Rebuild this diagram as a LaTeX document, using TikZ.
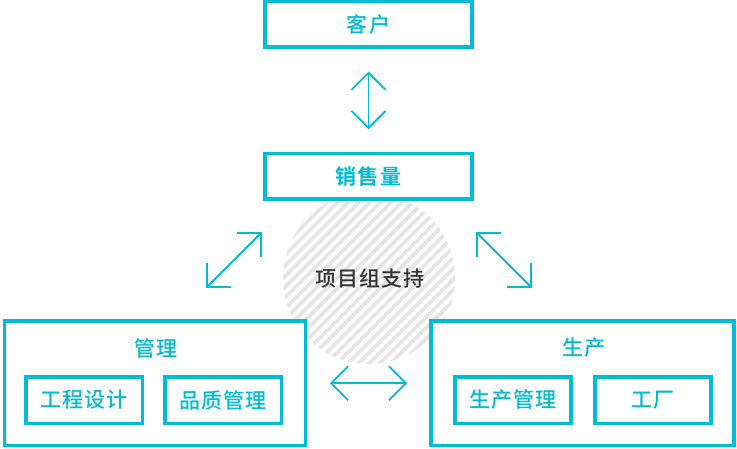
\documentclass[tikz,border=0pt]{standalone}
\usepackage{fontspec}
\newfontfamily\cjk[LetterSpace=5,BoldFont={Noto Sans CJK SC Bold}]{Noto Sans CJK SC Medium}
\usetikzlibrary{arrows.meta}
\definecolor{cy}{HTML}{00BCD4}
\definecolor{hatch}{HTML}{E5E5E5}
\definecolor{txt}{HTML}{333333}
\begin{document}
\begin{tikzpicture}[x=1pt,y=-1pt,
  box/.style={draw=cy, line width=3.5pt, fill=white, inner sep=0pt, text=cy,
    font=\cjk\fontsize{21}{21}\selectfont},
  lbl/.style={text=cy, inner sep=0pt, font=\cjk\fontsize{21}{21}\selectfont},
  biarrow/.style={draw=cy, line width=1.8pt,
    {Straight Barb[length=17pt,width=34pt]}-{Straight Barb[length=17pt,width=34pt]}}]
\useasboundingbox (0,0) rectangle (737,449);
% hatched circle
\begin{scope}
  \clip (369,278) circle[radius=86pt];
  \foreach \k in {-22,...,22}
    \draw[hatch, line width=3.8pt] (\k*10.7+269,378) -- ++(200,-200);
\end{scope}
\node[txt, inner sep=0pt, font=\cjk\fontsize{21}{21}\selectfont] (xm) at (370,278) {项目组支持};
% boxes
\node[box, minimum width=207pt, minimum height=45.5pt] (kehu) at (368.5,24.5) {客户};
\node[box, minimum width=207pt, minimum height=45.5pt, font=\cjk\bfseries\fontsize{21}{21}\selectfont] (xsl) at (368.5,176.25) {销售量};
\node[box, minimum width=301pt, minimum height=124.5pt] (gl) at (155,383.25) {};
\node[box, minimum width=303.25pt, minimum height=124.5pt] (sc) at (582.6,383.25) {};
\node[lbl] (gllbl) at (156,348) {管理};
\node[lbl] (sclbl) at (584,348) {生产};
\node[box, minimum width=116.5pt, minimum height=46.5pt] (gc) at (84,400) {工程设计};
\node[box, minimum width=116.5pt, minimum height=46.5pt] (pz) at (223,400) {品质管理};
\node[box, minimum width=116pt, minimum height=46.5pt] (scgl) at (513,400) {生产管理};
\node[box, minimum width=116pt, minimum height=46.5pt] (gcf) at (653,400) {工厂};
% arrows
\draw[biarrow, shorten <=22.5pt, shorten >=22.5pt] (kehu.south) -- (xsl.north);
\draw[biarrow, shorten <=22.5pt, shorten >=22pt] (gl.east) -- (sc.west);
\coordinate (l1) at (206,288);
\coordinate (l2) at (262,232);
\coordinate (r1) at (476,232);
\coordinate (r2) at (532,288);
\draw[biarrow] (l1) -- (l2);
\draw[biarrow] (r1) -- (r2);
\end{tikzpicture}
\end{document}
